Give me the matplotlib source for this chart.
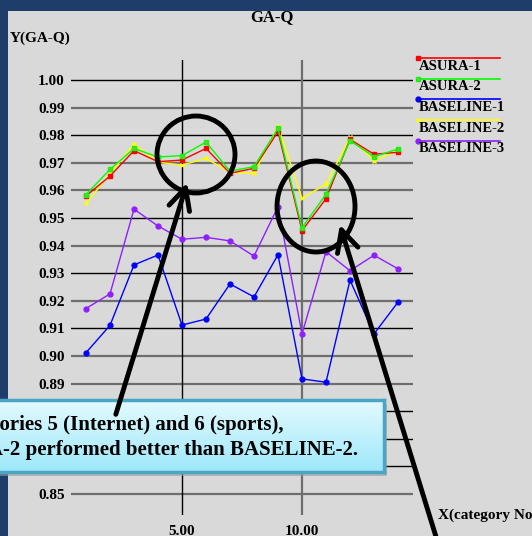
import numpy as np
import matplotlib
matplotlib.use('Agg')
import matplotlib.pyplot as plt
from matplotlib.patches import Rectangle, Ellipse, FancyArrowPatch
from matplotlib.lines import Line2D

# Data (category number vs GA-Q)
categories = list(range(1, 15))
asura_1 = [0.9580, 0.9652, 0.9744, 0.9704, 0.9710, 0.9752, 0.9662, 0.9680, 0.9813, 0.9454, 0.9570, 0.9785, 0.9731, 0.9738]
asura_2 = [0.9585, 0.9676, 0.9752, 0.9721, 0.9726, 0.9775, 0.9670, 0.9686, 0.9825, 0.9465, 0.9586, 0.9780, 0.9722, 0.9750]
baseline_1 = [0.9012, 0.9111, 0.9330, 0.9366, 0.9112, 0.9134, 0.9261, 0.9214, 0.9367, 0.8917, 0.8905, 0.9275, 0.9080, 0.9195]
baseline_2 = [0.9553, 0.9660, 0.9768, 0.9702, 0.9692, 0.9716, 0.9665, 0.9662, 0.9833, 0.9571, 0.9623, 0.9792, 0.9707, 0.9744]
baseline_3 = [0.9172, 0.9225, 0.9532, 0.9471, 0.9423, 0.9430, 0.9417, 0.9362, 0.9541, 0.9080, 0.9378, 0.9309, 0.9365, 0.9316]

y_ticks = [1.00, 0.99, 0.98, 0.97, 0.96, 0.95, 0.94, 0.93, 0.92, 0.91, 0.90, 0.89, 0.88, 0.87, 0.86, 0.85]
y_tick_labels = ['%.2f' % v for v in y_ticks]
gray_grid = [0.99, 0.97, 0.96, 0.94, 0.92, 0.90, 0.89, 0.85]
x_ticks = [5, 10]
x_tick_labels = ['5.00', '10.00']

series = [
    ('BASELINE-3', baseline_3, '#8f1fff', 'o', True),
    ('BASELINE-1', baseline_1, '#0000ff', 'o', True),
    ('BASELINE-2', baseline_2, '#ffff00', 'x', True),
    ('ASURA-1', asura_1, '#ff0000', 's', True),
    ('ASURA-2', asura_2, '#00ff00', 's', False),
]
legend_order = ['ASURA-1', 'ASURA-2', 'BASELINE-1', 'BASELINE-2', 'BASELINE-3']

W, H = 532, 536
serif = 'Liberation Serif'


def fx(px):
    return px / W


def fy(py):
    return 1 - py / H


fig = plt.figure(figsize=(W / 100, H / 100), dpi=100)
fig.patch.set_facecolor('#1f3d6b')

# slide window background
fig.add_artist(Rectangle((fx(8), 0), 1 - fx(8), fy(11), transform=fig.transFigure,
                         facecolor='#d9d9d9', edgecolor='none', zorder=-10))

# main axes, pixel box x 71..413, y 60..515
ax = fig.add_axes([fx(71), fy(515), fx(413) - fx(71), fy(60) - fy(515)])
ax.set_facecolor('none')
for s in ax.spines.values():
    s.set_visible(False)
ax.set_xlim(1 - 15 / 24, 14 + 15 / 24)
ax.set_ylim(0.85 - 21 / 2760, 1.0 + 20 / 2760)

for v in y_ticks:
    if v in gray_grid:
        ax.axhline(v, color='#6e6e6e', lw=1.6, zorder=1)
    else:
        ax.axhline(v, color='black', lw=1.0, zorder=1)
ax.axvline(5, color='black', lw=1.0, zorder=1)
ax.axvline(10, color='#6e6e6e', lw=1.6, zorder=1)

for name, vals, col, mk, filled in series:
    ax.plot(categories, vals, color=col, lw=1.0, marker=mk, markersize=3.5,
            markerfacecolor=col if filled else '#7fbf3f', markeredgecolor=col,
            markeredgewidth=1.0, zorder=3)

ax.set_yticks(y_ticks)
ax.set_yticklabels(y_tick_labels, fontfamily=serif, fontweight='bold', fontsize=11)
ax.set_xticks(x_ticks)
ax.set_xticklabels(x_tick_labels, fontfamily=serif, fontweight='bold', fontsize=11)
ax.tick_params(axis='y', length=0, pad=4.5)
ax.tick_params(axis='x', length=0, pad=7)

# titles
fig.text(fx(272), fy(17), 'GA-Q', ha='center', va='center', fontfamily=serif,
         fontweight='bold', fontsize=12)
fig.text(fx(10), fy(38), 'Y(GA-Q)', ha='left', va='center', fontfamily=serif,
         fontweight='bold', fontsize=11)
fig.text(fx(438), fy(515), 'X(category No.)', ha='left', va='center', fontfamily=serif,
         fontweight='bold', fontsize=11)

# legend drawn by hand: line with marker above each label
style = {name: (col, mk, filled) for name, vals, col, mk, filled in series}
for i, name in enumerate(legend_order):
    col, mk, filled = style[name]
    yl = 58 + i * 20.7
    fig.add_artist(Line2D([fx(418), fx(500)], [fy(yl), fy(yl)], transform=fig.transFigure,
                          color=col, lw=1.2, marker=mk, markevery=[0], markersize=3.5,
                          markerfacecolor=col if filled else '#7fbf3f', markeredgecolor=col))
    fig.text(fx(419), fy(yl + 8), name, ha='left', va='center', fontfamily=serif,
             fontweight='bold', fontsize=10.5)

# callout box with gradient
bx0, bx1, by0, by1 = -6, 384, 400, 472
fig.add_artist(Rectangle((fx(bx0 + 3), fy(by1 + 4)), fx(bx1 - bx0), fy(by0) - fy(by1),
                         transform=fig.transFigure, facecolor='#9a9a9a', edgecolor='none',
                         alpha=0.6, zorder=1.5))
bax = fig.add_axes([fx(bx0), fy(by1), fx(bx1 - bx0), fy(by0) - fy(by1)], zorder=2)
grad = np.linspace(0, 1, 64).reshape(-1, 1)
top = np.array([0.89, 0.98, 1.0])
bot = np.array([0.62, 0.91, 0.98])
img = top + (bot - top) * grad[:, :, None]
bax.imshow(img, aspect='auto', extent=[0, 1, 0, 1], origin='upper')
bax.set_xticks([])
bax.set_yticks([])
for s in bax.spines.values():
    s.set_color('#4aa6c4')
    s.set_linewidth(2.5)

fig.text(fx(283), fy(425), 'In categories 5 (Internet) and 6 (sports),', ha='right',
         va='center', fontfamily=serif, fontweight='bold', fontsize=15, zorder=6)
fig.text(fx(358), fy(450), 'ASURA-2 performed better than BASELINE-2.', ha='right',
         va='center', fontfamily=serif, fontweight='bold', fontsize=15, zorder=6)

# circles and arrows
fig.add_artist(Ellipse((fx(196), fy(154.5)), fx(78), 77 / H, transform=fig.transFigure,
                       fill=False, edgecolor='black', lw=3.5, zorder=5))
fig.add_artist(Ellipse((fx(316), fy(206.5)), fx(78), 91 / H, transform=fig.transFigure,
                       fill=False, edgecolor='black', lw=3.5, zorder=5))
for start, end in [((115, 417), (188, 180)), ((437, 540), (339, 222))]:
    fig.add_artist(FancyArrowPatch((fx(start[0]), fy(start[1])), (fx(end[0]), fy(end[1])),
                                   transform=fig.transFigure,
                                   arrowstyle='->,head_length=0.7,head_width=0.35',
                                   mutation_scale=22, color='black', lw=3.5, zorder=5))

plt.savefig('out.png', dpi=100, facecolor=fig.get_facecolor())
